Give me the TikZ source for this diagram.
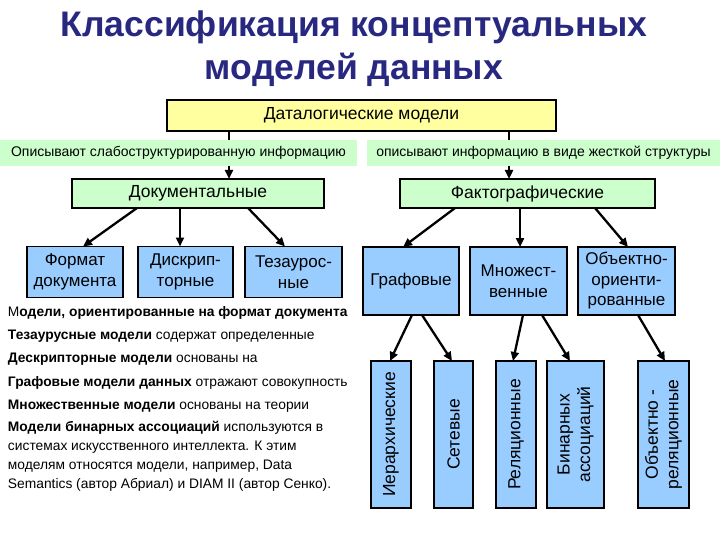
\documentclass[tikz,border=0pt]{standalone}
\usepackage{fontspec}
\setmainfont{Liberation Sans}
\usetikzlibrary{arrows.meta}
\definecolor{ttl}{RGB}{40,40,128}
\definecolor{ybox}{RGB}{255,255,160}
\definecolor{gbox}{RGB}{204,255,204}
\definecolor{bbox}{RGB}{153,204,255}
\begin{document}
\begin{tikzpicture}[x=1pt,y=-1pt,
  every node/.style={inner sep=0pt, outer sep=0pt},
  framebox/.style={draw=black, line width=1.8pt, align=center},
  ylbox/.style={framebox, fill=ybox, font=\fontsize{17.5}{20}\selectfont},
  grbox/.style={framebox, fill=gbox, font=\fontsize{17.5}{20}\selectfont},
  blbox/.style={framebox, fill=bbox, font=\fontsize{17}{20.5}\selectfont},
  strip/.style={fill=gbox, font=\fontsize{14}{16}\selectfont},
  lefttxt/.style={anchor=west, font=\fontsize{13.8}{16}\selectfont},
  ttlfont/.style={anchor=base, text=ttl, font=\fontsize{35.5}{40}\selectfont\bfseries},
  conn/.style={line width=2.3pt, -{Triangle[length=9pt,width=8pt]}},
  plain/.style={line width=2.3pt}
]
\useasboundingbox (0,0) rectangle (720,540);
\fill[white] (0,0) rectangle (720,540);

\node[ttlfont] (title1) at (354,37) {Классификация концептуальных};
\node[ttlfont] (title2) at (354,80) {моделей данных};

\node[ylbox, minimum width=389pt, minimum height=31pt] (dat) at (361.5,115.5) {Даталогические модели};

\node[strip, minimum width=357pt, minimum height=26pt] (s1) at (178.5,153) {Описывают слабоструктурированную информацию};
\node[strip, minimum width=353pt, minimum height=26pt] (s2) at (543.5,153) {описывают информацию в виде жесткой структуры};

\node[grbox, minimum width=252pt, minimum height=29pt] (doc) at (198,193.5) {Документальные};
\node[grbox, minimum width=255pt, minimum height=29pt] (fact) at (527.5,193.5) {Фактографические};

\node[blbox, minimum width=96pt, minimum height=51pt] (fmt) at (75,272) {Формат\\документа};
\node[blbox, minimum width=95pt, minimum height=51pt] (dsk) at (185.5,272) {Дискрип-\\торные};
\node[blbox, minimum width=97pt, minimum height=51pt] (tez) at (293.5,272) {Тезаурос-\\ные};

\node[blbox, minimum width=96pt, minimum height=68pt] (graf) at (411,281) {Графовые};
\node[blbox, minimum width=97pt, minimum height=68pt] (mn) at (518.5,281) {Множест-\\венные};
\node[blbox, minimum width=97pt, minimum height=68pt] (obj) at (626.5,281) {Объектно-\\ориенти-\\рованные};

\node[blbox, rotate=90, minimum width=147pt, minimum height=40pt, font=\fontsize{17.5}{20.5}\selectfont] (ier) at (391,434.5) {Иерархические};
\node[blbox, rotate=90, minimum width=147pt, minimum height=39pt, font=\fontsize{17.5}{20.5}\selectfont] (set) at (453.5,434.5) {Сетевые};
\node[blbox, rotate=90, minimum width=147pt, minimum height=40pt, font=\fontsize{17.5}{20.5}\selectfont] (rel) at (516,434.5) {Реляционные};
\node[blbox, rotate=90, minimum width=147pt, minimum height=57pt, font=\fontsize{17.5}{20.5}\selectfont] (bin) at (575.5,434.5) {Бинарных\\ассоциаций};
\node[blbox, rotate=90, minimum width=147pt, minimum height=51pt, font=\fontsize{17.5}{20.5}\selectfont] (orel) at (663.5,434.5) {Объектно -\\реляционные};

% connectors
\draw[plain] ([xshift=-132.5pt]dat.south) -- ([xshift=50.5pt]s1.north);
\draw[conn] ([xshift=50.5pt]s1.south) -- ([xshift=31pt]doc.north);
\draw[plain] ([xshift=147.5pt]dat.south) -- ([xshift=-34.5pt]s2.north);
\draw[conn] ([xshift=-34.5pt]s2.south) -- ([xshift=-18.5pt]fact.north);

\draw[conn] ([xshift=-61pt]doc.south) -- ([xshift=8pt]fmt.north);
\draw[conn] ([xshift=-18pt]doc.south) -- ([xshift=-5.5pt]dsk.north);
\draw[conn] ([xshift=50pt]doc.south) -- ([xshift=-8.5pt]tez.north);

\draw[conn] ([xshift=-72.5pt]fact.south) -- ([xshift=-8pt]graf.north);
\draw[conn] ([xshift=-7.5pt]fact.south) -- ([xshift=1.5pt]mn.north);
\draw[conn] ([xshift=67.5pt]fact.south) -- ([xshift=1.5pt]obj.north);

\draw[conn] ([xshift=1pt]graf.south) -- ([xshift=-1pt]ier.east);
\draw[conn] ([xshift=11pt]graf.south) -- ([xshift=-1.5pt]set.east);
\draw[conn] ([xshift=4.5pt]mn.south) -- ([xshift=-3pt]rel.east);
\draw[conn] ([xshift=23.5pt]mn.south) -- ([xshift=-5.5pt]bin.east);
\draw[conn] ([xshift=11.5pt]obj.south) -- ([xshift=1.5pt]orel.east);

% left texts
\node[lefttxt] (t1) at (8,313) {М\textbf{одели, ориентированные на формат документа}};
\node[lefttxt] (t2) at (8,336) {\textbf{Тезаурусные модели} содержат определенные};
\node[lefttxt] (t3) at (8,359) {\textbf{Дескрипторные модели} основаны на};
\node[lefttxt] (t4) at (8,383) {\textbf{Графовые модели данных} отражают совокупность};
\node[lefttxt] (t5) at (8,406) {\textbf{Множественные модели} основаны на теории};
\node[anchor=north west, align=left, font=\fontsize{13.8}{19}\selectfont] (t6) at (8,421)
  {\textbf{Модели бинарных ассоциаций} используются в\\
   системах искусственного интеллекта. К этим\\
   моделям относятся модели, например, Data\\
   Semantics (автор Абриал) и DIAM II (автор Сенко).};
\end{tikzpicture}
\end{document}
